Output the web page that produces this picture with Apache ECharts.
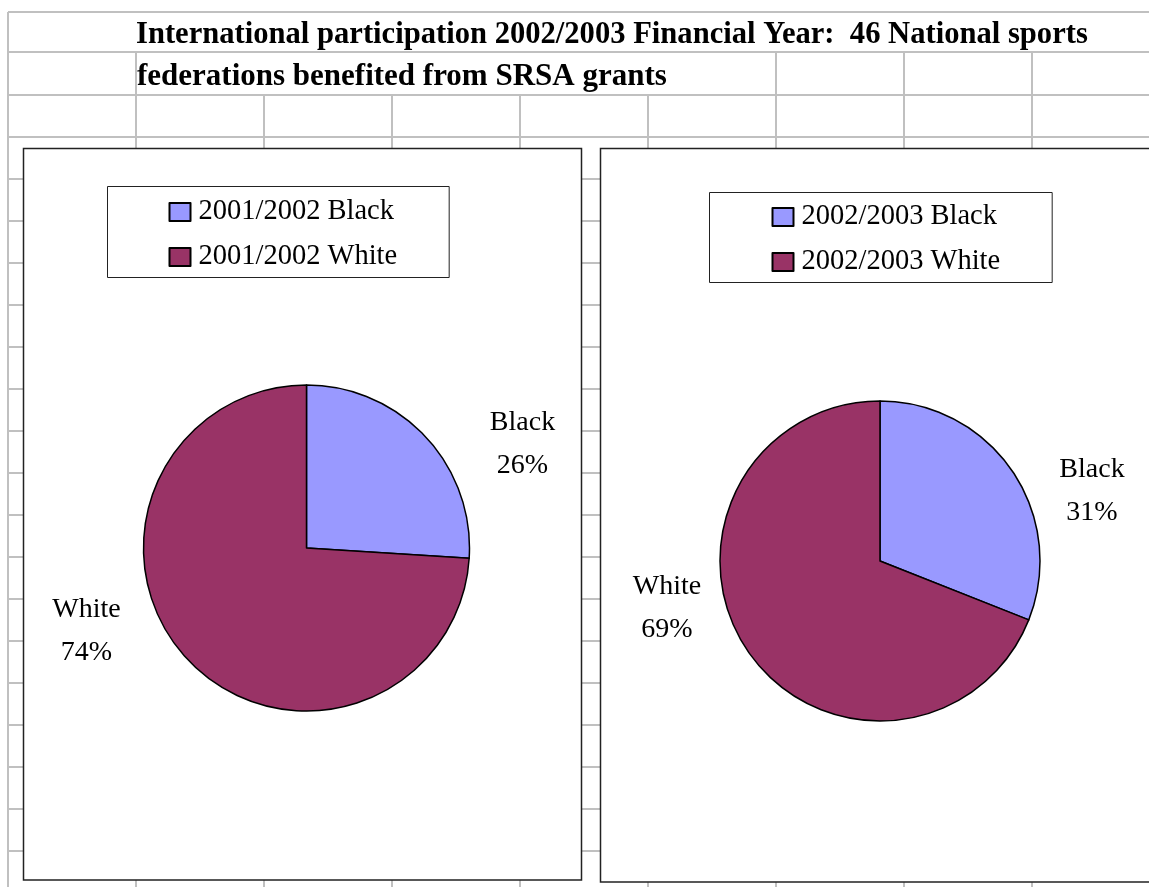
<!DOCTYPE html>
<html>
<head>
<meta charset="utf-8">
<script src="https://cdn.jsdelivr.net/npm/echarts@6/dist/echarts.min.js"></script>
<style>
  html, body { margin: 0; padding: 0; background: #fff; }
  #chart { width: 1149px; height: 887px; }
</style>
</head>
<body>
<div id="chart"></div>
<script>
// Worksheet heading lines
const titleLines = [
  'International participation 2002/2003 Financial Year:  46 National sports',
  'federations benefited from SRSA grants'
];

// Pie categories and the two financial years
const categories = ['Black', 'White'];
const years = ['2001/2002', '2002/2003'];
const share2001 = [26, 74];
const share2002 = [31, 69];

const SERIF = "'Times New Roman', 'Liberation Serif', serif";
const sliceColors = ['#9999FF', '#993366'];

// Spreadsheet cell grid drawn behind the charts
const W = 1149, H = 887;
const gridColor = '#c0c0c0';
const gridLeft = 8, colStart = 136, colW = 128;
const rowLines = [12, 52, 95];
for (let y = 137; y < H; y += 42) rowLines.push(y);
const colLines = [];
for (let x = colStart; x < W; x += colW) colLines.push(x);

const gridEls = [];
rowLines.forEach(y => gridEls.push({
  type: 'line', z: 0, silent: true,
  shape: { x1: gridLeft, y1: y, x2: W, y2: y },
  style: { stroke: gridColor, lineWidth: 2 }
}));
gridEls.push({
  type: 'line', z: 0, silent: true,
  shape: { x1: gridLeft, y1: 12, x2: gridLeft, y2: H },
  style: { stroke: gridColor, lineWidth: 2 }
});
colLines.forEach(x => {
  // heading row is one merged cell; second row overflows up to column 776
  const top = (x === 136 || x >= 776) ? 52 : 95;
  gridEls.push({
    type: 'line', z: 0, silent: true,
    shape: { x1: x, y1: top, x2: x, y2: H },
    style: { stroke: gridColor, lineWidth: 2 }
  });
});

// Chart frames (white filled, sitting over the cell grid)
const frames = [
  { x: 23.5, y: 148.5, width: 558, height: 731.5 },
  { x: 600.5, y: 148.5, width: 600, height: 733.5 }
];
const frameEls = frames.map(f => ({
  type: 'rect', z: 1, silent: true,
  shape: f,
  style: { fill: '#fff', stroke: '#222', lineWidth: 1.5 }
}));

// Pie geometry and label anchors (offsets from each pie centre)
const pieCenters = [[306.5, 548], [880, 561]];
const pieRadii = [163, 160];
const labelOffsets = [
  [[216, -104], [-220, 83]],
  [[212, -70], [-213, 47]]
];

function pieSeries(idx, values) {
  return {
    type: 'pie',
    z: 2,
    center: pieCenters[idx],
    radius: pieRadii[idx],
    startAngle: 90,
    clockwise: true,
    avoidLabelOverlap: false,
    animation: false,
    emphasis: { disabled: true },
    itemStyle: { borderColor: '#000', borderWidth: 1.5 },
    label: {
      show: true,
      position: 'outside',
      fontFamily: SERIF,
      fontSize: 28,
      lineHeight: 43,
      color: '#000',
      align: 'center',
      formatter: p => categories[p.dataIndex] + '\n' + Math.round(p.percent) + '%'
    },
    labelLine: { show: false },
    labelLayout: p => {
      const c = pieCenters[idx];
      const o = labelOffsets[idx][p.dataIndex];
      return { x: c[0] + o[0], y: c[1] + o[1], align: 'center', verticalAlign: 'middle' };
    },
    data: categories.map((cat, i) => ({
      name: years[idx] + ' ' + cat,
      value: values[i],
      itemStyle: { color: sliceColors[i] }
    }))
  };
}

function legendFor(idx, left, top, padding) {
  return {
    orient: 'vertical',
    left: left,
    top: top,
    padding: padding,
    itemGap: 16,
    itemWidth: 21,
    itemHeight: 18,
    icon: 'rect',
    selectedMode: false,
    backgroundColor: '#fff',
    borderColor: '#222',
    borderWidth: 1,
    borderRadius: 0,
    textStyle: { fontFamily: SERIF, fontSize: 28.5, color: '#000', padding: [0, 0, 0, 3] },
    data: categories.map(cat => years[idx] + ' ' + cat)
  };
}

const chart = echarts.init(document.getElementById('chart'), null, { renderer: 'canvas' });
chart.setOption({
  backgroundColor: '#fff',
  animation: false,
  title: [
    {
      text: titleLines[0], left: 136, top: 20, padding: 0,
      textStyle: { fontFamily: SERIF, fontSize: 30.6, fontWeight: 'bold', color: '#000' }
    },
    {
      text: titleLines[1], left: 137, top: 61, padding: 0,
      textStyle: { fontFamily: SERIF, fontSize: 31, fontWeight: 'bold', color: '#000' }
    }
  ],
  graphic: { elements: gridEls.concat(frameEls) },
  legend: [
    legendFor(0, 107.5, 186.5, [11, 52, 6, 61]),
    legendFor(1, 709.5, 192.5, [10, 52, 6, 62])
  ],
  series: [pieSeries(0, share2001), pieSeries(1, share2002)]
});
</script>
</body>
</html>
